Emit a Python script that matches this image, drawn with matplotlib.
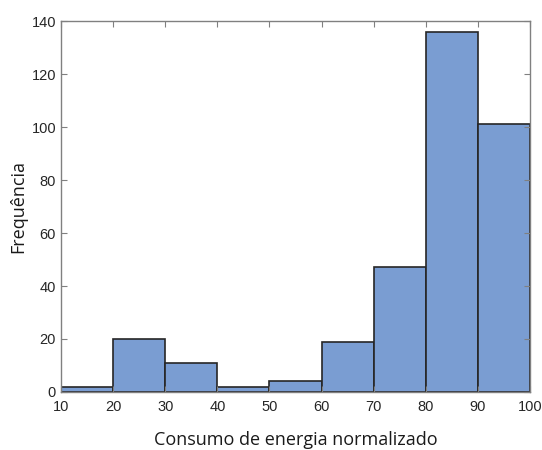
import numpy as np
import matplotlib.pyplot as plt

plt.rcParams['font.family'] = 'Liberation Sans'

# histogram bins and counts
bin_edges = [10, 20, 30, 40, 50, 60, 70, 80, 90, 100]
counts = [2, 20, 11, 2, 4, 19, 47, 136, 101]

fig = plt.figure(figsize=(5.42, 4.5), dpi=100)
ax = fig.add_axes([0.1125, 0.129, 0.8655, 0.824])

centers = [(a + b) / 2 for a, b in zip(bin_edges[:-1], bin_edges[1:])]
ax.hist(centers, bins=bin_edges, weights=counts,
        facecolor='#7A9DD2', edgecolor='#262626', linewidth=1.2)

ax.set_xlim(10, 100)
ax.set_ylim(0, 140)
ax.set_xticks(np.arange(10, 101, 10))
ax.set_yticks(np.arange(0, 141, 20))

for s in ax.spines.values():
    s.set_color('#808080')
    s.set_linewidth(1.0)
ax.tick_params(direction='in', top=True, right=True, length=4,
               color='#808080', labelcolor='#262626', labelsize=10.5)
ax.tick_params(axis='x', pad=6)

ax.set_xlabel('Consumo de energia normalizado', fontsize=13,
              family='Open Sans', labelpad=12, color='#1a1a1a')
ax.set_ylabel('Frequência', fontsize=13, family='Open Sans',
              labelpad=3, color='#1a1a1a')

fig.savefig('out.png', dpi=100)
